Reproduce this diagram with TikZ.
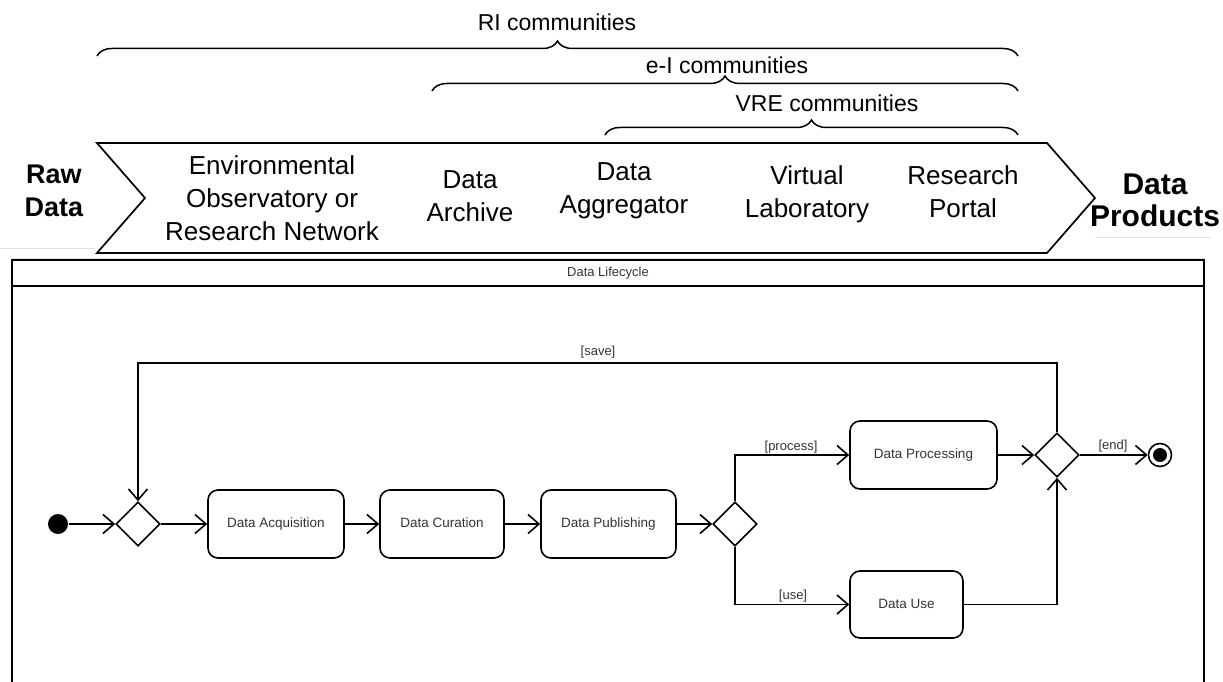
\documentclass[tikz,border=0pt]{standalone}
\usepackage{fontspec}
\setmainfont{Liberation Sans}
\usetikzlibrary{shapes.geometric,arrows.meta,decorations.pathreplacing}
\begin{document}
\begin{tikzpicture}[x=1pt,y=-1pt,
  line width=1.6pt,
  >={Straight Barb[length=11pt,width=19pt]},
  act/.style={draw, rounded corners=10pt, minimum height=68pt, inner sep=0pt,
    text height=10pt, text depth=3pt,
    font=\fontsize{13.5}{16}\selectfont, text=black!80},
  dec/.style={draw, diamond, aspect=1, minimum width=44pt, minimum height=44pt, inner sep=0pt},
  glabel/.style={font=\fontsize{13}{15}\selectfont, text=black!80, inner sep=0pt},
  chev/.style={align=center, font=\fontsize{26}{33}\selectfont, inner sep=0pt},
  endlabel/.style={align=center, font=\bfseries\fontsize{27}{33}\selectfont, inner sep=0pt},
  commlabel/.style={font=\fontsize{23}{26}\selectfont, inner sep=0pt},
  bracepath/.style={line width=1.5pt, decorate, decoration={brace, amplitude=15pt}},
  faint/.style={line width=0.8pt, black!12},
]
\useasboundingbox (0,0) rectangle (1223,682);

% community braces
\node[commlabel] (ri) at (557,22) {RI communities};
\draw[bracepath] (97,56) -- (1018,56);
\node[commlabel] (ei) at (727,65) {e-I communities};
\draw[bracepath] (432,91) -- (1018,91);
\node[commlabel] (vre) at (827,103) {VRE communities};
\draw[bracepath] (605,135) -- (1018,135);

% chevron
\draw[line width=1.7pt] (97,143) -- (1047,143) -- (1095,198) -- (1047,253) -- (97,253) -- (145,198) -- cycle;
\draw[faint] (12,258) -- (1205,258);
\draw[faint] (0,248) -- (95,248);
\draw[faint] (1095,237) -- (1210,237);

\node[endlabel] (raw) at (54,191) {Raw\\Data};
\node[chev] (eo) at (272,198) {Environmental\\Observatory or\\Research Network};
\node[chev] (da) at (470,196) {Data\\Archive};
\node[chev] (dag) at (624,191) {Data\\Aggregator};
\node[chev] (vl) at (807,194) {Virtual\\Laboratory};
\node[chev] (rp) at (963,192) {Research\\Portal};
\node[endlabel, font=\bfseries\fontsize{30}{32}\selectfont] (dp) at (1155,200) {Data\\Products};

% frame
\draw (12,700) -- (12,260) -- (1204,260) -- (1204,700);
\draw (12,286) -- (1204,286);
\node[glabel] (title) at (608,273) {Data Lifecycle};

% activity diagram
\node[circle, fill=black, minimum size=20pt, inner sep=0pt] (init) at (58,524) {};
\node[dec] (d1) at (138,524) {};
\node[act, minimum width=136pt] (acq) at (276,524) {Data Acquisition};
\node[act, minimum width=124pt] (cur) at (442,524) {Data Curation};
\node[act, minimum width=135pt] (pub) at (608.5,524) {Data Publishing};
\node[dec] (d2) at (735,524) {};
\node[act, minimum width=147pt] (proc) at (923.5,455) {Data Processing};
\node[act, minimum width=113pt, minimum height=67pt] (use) at (906.5,604.5) {Data Use};
\node[dec] (d3) at (1057,455) {};
\node[circle, draw, line width=1.6pt, minimum size=23pt, inner sep=0pt] (fin) at (1160,455) {};
\node[circle, fill=black, minimum size=14pt, inner sep=0pt] at (fin.center) {};

\coordinate (savel) at (138,363);
\coordinate (saver) at (1057,363);
\coordinate (procc) at (735,455);
\coordinate (usec) at (735,604.5);
\coordinate (usee) at (1057,604.5);

\draw[->] (init) -- (d1);
\draw[->] (d1) -- (acq);
\draw[->] (acq) -- (cur);
\draw[->] (cur) -- (pub);
\draw[->] (pub) -- (d2);
\draw[->] (d2.north) -- (procc) -- (proc.west);
\draw[->] (d2.south) -- (usec) -- (use.west);
\draw[->] (proc) -- (d3);
\draw[->] (use.east) -- (usee) -- (d3.south);
\draw[->] (d3.north) -- (saver) -- (savel) -- (d1.north);
\draw[->] (d3) -- (fin);

\node[glabel] (lsave) at (598,352) {[save]};
\node[glabel] (lproc) at (791,447) {[process]};
\node[glabel] (luse) at (793,596) {[use]};
\node[glabel] (lend) at (1113,446) {[end]};
\end{tikzpicture}
\end{document}
